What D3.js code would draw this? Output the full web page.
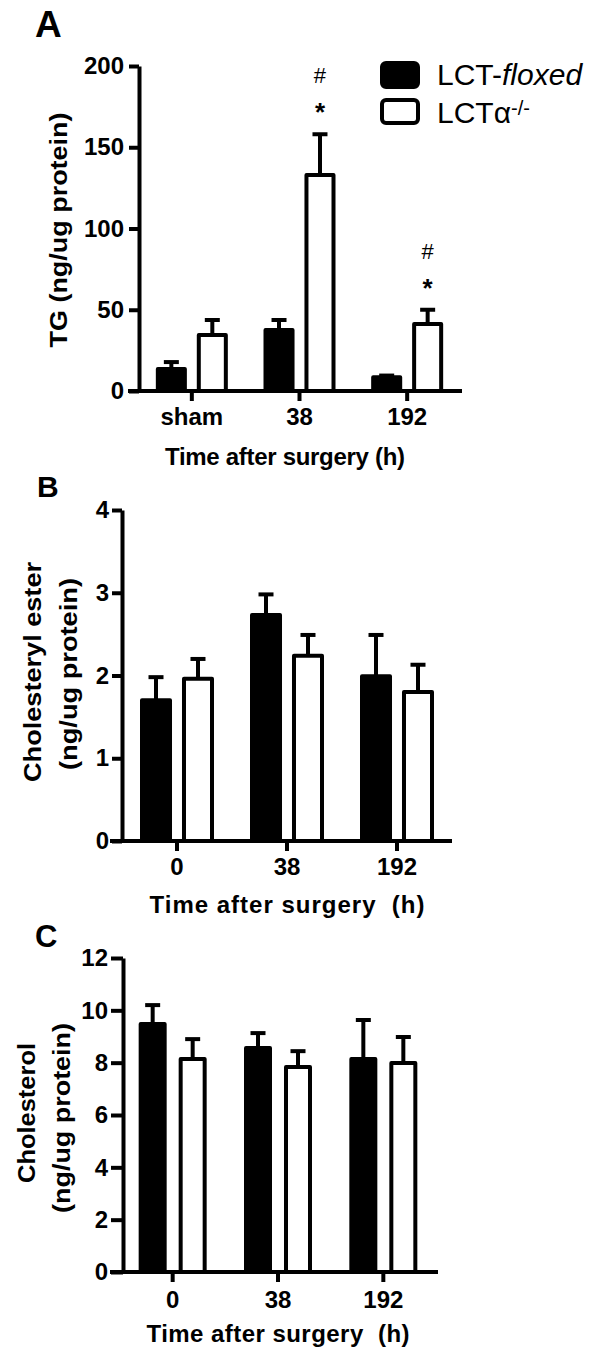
<!DOCTYPE html>
<html>
<head>
<meta charset="utf-8">
<script src="https://cdn.jsdelivr.net/npm/d3@7"></script>
<style>
  html, body { margin: 0; padding: 0; background: #fff; }
  svg { display: block; }
  text { font-family: 'Liberation Sans', Arial, Helvetica, sans-serif; fill: #000; }
</style>
</head>
<body>
<svg id="fig" width="595" height="1355"></svg>
<script>
// ---- data -------------------------------------------------------------
const seriesNames = ["LCT-floxed", "LCTα-/-"];
const tgGroups = ["sham", "38", "192"];
const timeGroups = ["0", "38", "192"];

// A: triglyceride (ng/ug protein), mean and SEM
const tgFloxed = [13.5, 37.5, 8.5];
const tgFloxedSem = [4.3, 6.2, 1.0];
const tgKnockout = [34.5, 133, 41.2];
const tgKnockoutSem = [9.2, 25, 8.8];
const tgTicks = [0, 50, 100, 150, 200];
// knockout groups flagged with * and #
const tgMarked = ["38", "192"];

// B: cholesteryl ester (ng/ug protein)
const ceFloxed = [1.70, 2.73, 1.99];
const ceFloxedSem = [0.28, 0.25, 0.50];
const ceKnockout = [1.96, 2.24, 1.80];
const ceKnockoutSem = [0.24, 0.25, 0.33];
const ceTicks = [0, 1, 2, 3, 4];

// C: free cholesterol (ng/ug protein)
const cholFloxed = [9.48, 8.56, 8.14];
const cholFloxedSem = [0.72, 0.57, 1.49];
const cholKnockout = [8.14, 7.83, 7.99];
const cholKnockoutSem = [0.76, 0.61, 0.99];
const cholTicks = [0, 2, 4, 6, 8, 10, 12];

// ---- drawing ----------------------------------------------------------
const svg = d3.select("#fig");
const LW = 4;

function drawPanel(p) {
  const g = svg.append("g");
  const y = d3.scaleLinear().domain([0, p.max]).range([p.yBottom, p.yTop]);
  const x = d3.scaleBand().domain(p.groups).range(p.band);
  const xs = d3.scaleBand().domain([0, 1]).range([-p.pairHalf, p.pairHalf]).paddingInner(p.pairPad);

  const rows = p.groups.flatMap((grp, i) => [
    { grp, s: 0, mean: p.floxed[i], sem: p.floxedSem[i] },
    { grp, s: 1, mean: p.knockout[i], sem: p.knockoutSem[i] }
  ]);
  const cx = d => x(d.grp) + x.bandwidth() / 2 + xs(d.s) + xs.bandwidth() / 2;

  // error bars (upper only)
  const eb = g.append("g").attr("stroke", "#000").attr("stroke-width", LW);
  eb.selectAll("line.v").data(rows).join("line").attr("class", "v")
    .attr("x1", cx).attr("x2", cx)
    .attr("y1", d => y(d.mean)).attr("y2", d => y(d.mean + d.sem));
  eb.selectAll("line.c").data(rows).join("line").attr("class", "c")
    .attr("x1", d => cx(d) - 7.5).attr("x2", d => cx(d) + 7.5)
    .attr("y1", d => y(d.mean + d.sem)).attr("y2", d => y(d.mean + d.sem));

  // bars
  g.append("g").selectAll("rect").data(rows).join("rect")
    .attr("x", d => x(d.grp) + x.bandwidth() / 2 + xs(d.s))
    .attr("width", xs.bandwidth())
    .attr("y", d => y(d.mean))
    .attr("height", d => y(0) - y(d.mean))
    .attr("fill", d => d.s ? "#fff" : "#000")
    .attr("stroke", "#000").attr("stroke-width", LW)
    .attr("stroke-linejoin", "round");

  // y axis
  const ya = g.append("g").attr("transform", `translate(${p.yAxisX},0)`)
    .call(d3.axisLeft(y).tickValues(p.ticks).tickFormat(d3.format("d"))
      .tickSize(p.yTick).tickSizeOuter(0).tickPadding(p.yPad));
  ya.selectAll("path, line").attr("stroke", "#000").attr("stroke-width", LW);
  ya.attr("font-size", 24).attr("font-weight", "bold");

  // x axis
  const xa = g.append("g").attr("transform", `translate(0,${y(0)})`)
    .call(d3.axisBottom(x).tickSize(10).tickSizeOuter(0).tickPadding(p.xPad));
  xa.select(".domain").remove();
  xa.selectAll("line").attr("stroke", "#000").attr("stroke-width", LW);
  xa.attr("font-size", 24).attr("font-weight", "bold");
  g.append("line")
    .attr("x1", p.xStart).attr("x2", p.xEnd)
    .attr("y1", y(0)).attr("y2", y(0))
    .attr("stroke", "#000").attr("stroke-width", LW);

  // x title
  g.append("text")
    .attr("x", p.xTitle[0]).attr("y", p.xTitle[1])
    .attr("text-anchor", "middle")
    .attr("font-size", 24).attr("font-weight", "bold")
    .attr("textLength", p.xTitle[2]).attr("lengthAdjust", "spacing")
    .style("white-space", "pre")
    .text(p.xTitleText);

  // y title lines (rotated)
  p.yTitle.forEach(t => {
    g.append("text")
      .attr("transform", `translate(${t.x},${t.y}) rotate(-90)`)
      .attr("text-anchor", "middle")
      .attr("font-size", 24).attr("font-weight", "bold")
      .attr("textLength", t.len).attr("lengthAdjust", "spacingAndGlyphs")
      .text(t.text);
  });

  // panel letter
  g.append("text")
    .attr("x", p.letter[0]).attr("y", p.letter[1])
    .attr("font-size", p.letter[2]).attr("font-weight", "bold")
    .text(p.letterText);

  return { g, x, xs, y, rows, cx };
}

// A: triglyceride
const pA = drawPanel({
  groups: tgGroups, floxed: tgFloxed, floxedSem: tgFloxedSem,
  knockout: tgKnockout, knockoutSem: tgKnockoutSem,
  max: 200, ticks: tgTicks, yBottom: 391, yTop: 66,
  band: [138, 461], pairHalf: 34, pairPad: 0.34,
  yAxisX: 139, yTick: 10, yPad: 5, xPad: 7,
  xStart: 128, xEnd: 462,
  xTitle: [285, 465, 240], xTitleText: "Time after surgery (h)",
  yTitle: [{ x: 67, y: 230, len: 235, text: "TG (ng/ug protein)" }],
  letter: [35, 37, 37], letterText: "A"
});

// significance marks above the knockout bars
const marked = pA.rows.filter(d => d.s === 1 && tgMarked.includes(d.grp));
pA.g.selectAll("text.star").data(marked).join("text").attr("class", "star")
  .attr("x", pA.cx).attr("y", d => pA.y(d.mean + d.sem) - 13)
  .attr("text-anchor", "middle").attr("font-size", 26).attr("font-weight", "bold")
  .text("*");
pA.g.selectAll("text.hash").data(marked).join("text").attr("class", "hash")
  .attr("x", pA.cx).attr("y", d => pA.y(d.mean + d.sem) - 51)
  .attr("text-anchor", "middle").attr("font-size", 22)
  .text("#");

// legend
const legend = svg.append("g");
legend.selectAll("rect").data(seriesNames).join("rect")
  .attr("x", 382).attr("y", (d, i) => i ? 100 : 63)
  .attr("width", 36).attr("height", (d, i) => i ? 23 : 24)
  .attr("rx", 4)
  .attr("fill", (d, i) => i ? "#fff" : "#000")
  .attr("stroke", "#000").attr("stroke-width", LW);
const l1 = legend.append("text").attr("x", 437).attr("y", 85).attr("font-size", 30);
l1.append("tspan").text("LCT-");
l1.append("tspan").attr("font-style", "italic").text("floxed");
const l2 = legend.append("text").attr("x", 437).attr("y", 123).attr("font-size", 30);
l2.append("tspan").text("LCTα");
l2.append("tspan").attr("font-size", 20).attr("dy", -8).text("-/-");

// B: cholesteryl ester
drawPanel({
  groups: timeGroups, floxed: ceFloxed, floxedSem: ceFloxedSem,
  knockout: ceKnockout, knockoutSem: ceKnockoutSem,
  max: 4, ticks: ceTicks, yBottom: 841, yTop: 510,
  band: [122, 452], pairHalf: 35, pairPad: 0.333,
  yAxisX: 122, yTick: 10, yPad: 3, xPad: 7,
  xStart: 110, xEnd: 452,
  xTitle: [287, 913, 275], xTitleText: "Time after surgery  (h)",
  yTitle: [
    { x: 41, y: 672, len: 220, text: "Cholesteryl ester" },
    { x: 77, y: 674, len: 192, text: "(ng/ug protein)" }
  ],
  letter: [37, 497, 30], letterText: "B"
});

// C: cholesterol
drawPanel({
  groups: timeGroups, floxed: cholFloxed, floxedSem: cholFloxedSem,
  knockout: cholKnockout, knockoutSem: cholKnockoutSem,
  max: 12, ticks: cholTicks, yBottom: 1272, yTop: 958,
  band: [120, 436], pairHalf: 32, pairPad: 0.4,
  yAxisX: 123, yTick: 12, yPad: 3, xPad: 9,
  xStart: 110, xEnd: 438,
  xTitle: [278, 1342, 263], xTitleText: "Time after surgery  (h)",
  yTitle: [
    { x: 35, y: 1113, len: 140, text: "Cholesterol" },
    { x: 70, y: 1118, len: 190, text: "(ng/ug protein)" }
  ],
  letter: [35, 947, 31], letterText: "C"
});
</script>
</body>
</html>
